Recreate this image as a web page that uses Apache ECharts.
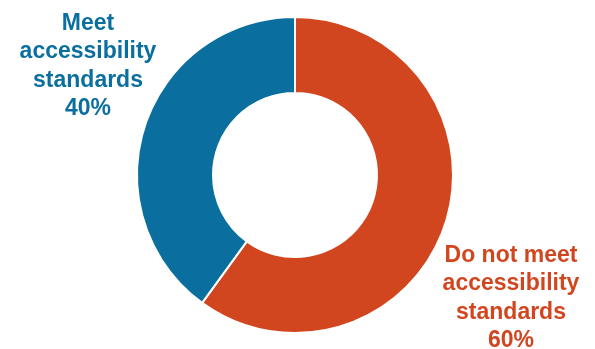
<!DOCTYPE html>
<html lang="en">
  <head>
    <meta charset="UTF-8" />
    <title>Accessibility standards</title>
    <script src="https://cdn.jsdelivr.net/npm/echarts@6/dist/echarts.min.js"></script>
    <style>
      * { margin: 0; padding: 0; box-sizing: border-box; }
      body { background: #fff; }
      #chart { width: 595px; height: 349px; }
    </style>
  </head>
  <body>
    <div id="chart"></div>
    <script>
      /* ---------- data ---------- */
      const labels = ["Do not meet\naccessibility\nstandards", "Meet\naccessibility\nstandards"];
      const shares = [60, 40];
      const colors = ["#d2461f", "#0a6f9e"];
      // label anchor (centre of the text block), px
      const labelPos = [[511, 298], [88, 66]];

      const chart = echarts.init(document.getElementById("chart"), null, { renderer: "canvas" });

      chart.setOption({
        animation: false,
        series: [
          {
            type: "pie",
            center: [295, 175],
            radius: [82, 158],
            startAngle: 90,
            clockwise: true,
            data: labels.map((name, i) => ({
              name,
              value: shares[i],
              itemStyle: { color: colors[i] },
              label: { color: colors[i] },
            })),
            itemStyle: { borderColor: "#fff", borderWidth: 2 },
            label: {
              show: true,
              position: "outside",
              formatter: (p) => p.name + "\n" + p.value + "%",
              fontFamily: "Liberation Sans, Arial, sans-serif",
              fontWeight: "bold",
              fontSize: 23,
              lineHeight: 28.5,
              align: "center",
              overflow: "none",
            },
            labelLine: { show: false },
            labelLayout: (p) => ({
              x: labelPos[p.dataIndex][0],
              y: labelPos[p.dataIndex][1],
              align: "center",
              verticalAlign: "middle",
              width: 200,
            }),
          },
        ],
      });
    </script>
  </body>
</html>
